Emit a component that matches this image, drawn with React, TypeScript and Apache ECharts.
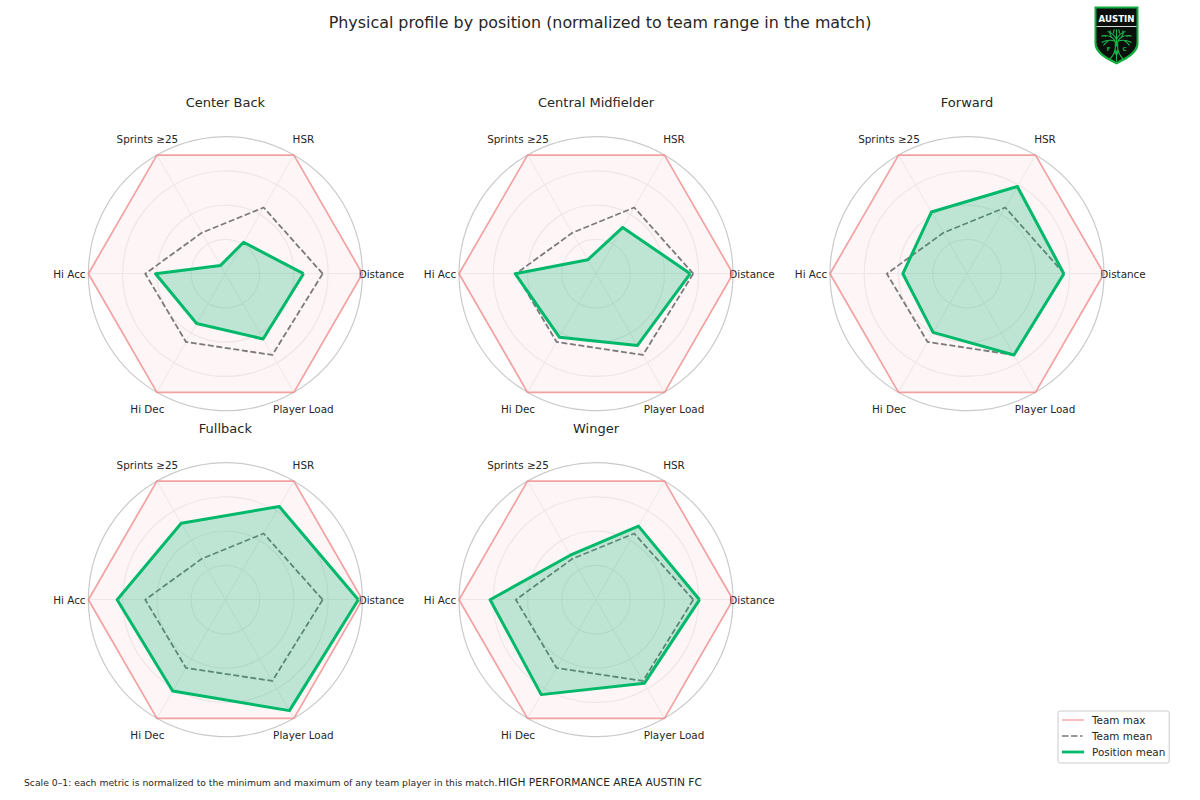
import React, { useEffect, useRef } from "react";
import * as echarts from "echarts";

const FONT = "'DejaVu Sans', sans-serif";
const metrics = ["Distance", "HSR", "Sprints ≥25", "Hi Acc", "Hi Dec", "Player Load"];
const positions = ["Center Back", "Central Midfielder", "Forward", "Fullback", "Winger"];
const teamMax = [1, 1, 1, 1, 1, 1];
const teamMean = [0.71, 0.558, 0.345, 0.585, 0.575, 0.685];
const centerBack = [0.57, 0.265, 0.07, 0.51, 0.42, 0.55];
const centralMidfielder = [0.688, 0.39, 0.118, 0.59, 0.535, 0.605];
const forward = [0.707, 0.735, 0.52, 0.468, 0.495, 0.685];
const fullback = [0.97, 0.786, 0.645, 0.79, 0.77, 0.935];
const winger = [0.756, 0.62, 0.375, 0.773, 0.8, 0.705];
const positionValues = [centerBack, centralMidfielder, forward, fullback, winger];
const panelCenters = [
  [225.4, 273.7],
  [596, 273.7],
  [967, 273.7],
  [225.4, 599.7],
  [596, 599.7],
];
const MAX_COLOR = "rgba(240,128,128,0.72)";
const MEAN_COLOR = "#7a7a7a";
const POS_COLOR = "#00b96b";

const blank = "M0 0L0 0M25 14L25 14";
const maxIcon = `path://${blank}M0 6.3H22V7.7H0Z`;
const meanIcon = `path://${blank}M0 6.2H6.5V7.8H0ZM9 6.2H15.5V7.8H9ZM18 6.2H20.5V7.8H18Z`;
const posIcon = `path://${blank}M0 5.6H22V8.4H0Z`;

echarts.graphic.registerShape(
  "austinShield",
  echarts.graphic.extendPath("M0 0H44V37C44 47 32 53 22 58C12 53 0 47 0 37Z", {})
);
echarts.graphic.registerShape(
  "austinTree",
  echarts.graphic.extendPath(
    "M20.8 48L20.8 35C19 31 15 29 10 29M20.8 35C17 33 11 34 7 36M23.2 48L23.2 35C25 31 29 29 34 29M23.2 35C27 33 33 34 37 36M22 40L22 23M22 33C20 29 18 26 13 25M22 33C24 29 26 26 31 25M17 30C15 28 15 26 16 24M27 30C29 28 29 26 28 24M12 30C10 29 8 29 7 30M32 30C34 29 36 29 37 30M14 34C12 36 10 37 9 39M30 34C32 36 34 37 35 39M19 27C19 25 19 24 20 23M25 27C25 25 25 24 24 23M15 53C19 49 21 45 21 39M29 53C25 49 23 45 23 39M22 44L22 55",
    {}
  )
);

export default function App() {
  const ref = useRef<HTMLDivElement>(null);
  useEffect(() => {
    const chart = echarts.init(ref.current!, undefined, { renderer: "svg" });
    chart.setOption({
      animation: false,
      backgroundColor: "#fff",
      textStyle: { fontFamily: FONT },
      title: [
        {
          text: "Physical profile by position (normalized to team range in the match)",
          left: 600,
          top: 14,
          textAlign: "center",
          padding: 0,
          textStyle: { fontFamily: FONT, fontSize: 15.9, fontWeight: "normal", color: "#262626" },
        },
        ...positions.map((p, i) => ({
          text: p,
          left: panelCenters[i][0],
          top: panelCenters[i][1] - 178,
          textAlign: "center",
          padding: 0,
          textStyle: { fontFamily: FONT, fontSize: 13, fontWeight: "normal", color: "#262626" },
        })),
      ],
      legend: {
        orient: "vertical",
        left: 1058,
        top: 711,
        padding: [2, 4, 4, 4],
        itemWidth: 25,
        itemHeight: 14,
        itemGap: 2,
        selectedMode: false,
        backgroundColor: "#fff",
        borderColor: "#cccccc",
        borderWidth: 1,
        borderRadius: 2,
        textStyle: { fontFamily: FONT, fontSize: 10.4, color: "#262626" },
        data: [
          { name: "Team max", icon: maxIcon },
          { name: "Team mean", icon: meanIcon },
          { name: "Position mean", icon: posIcon },
        ],
      },
      radar: panelCenters.map((c) => ({
        center: c,
        radius: 137,
        startAngle: 0,
        shape: "circle",
        splitNumber: 4,
        axisNameGap: 19,
        axisName: {
          color: "#262626",
          fontFamily: FONT,
          fontSize: 10.4,
          align: "center",
          verticalAlign: "middle",
        },
        indicator: metrics.map((m) => ({ name: m, min: 0, max: 1 })),
        axisLine: { lineStyle: { color: "#efefef", width: 1 } },
        axisTick: { show: false },
        splitArea: { show: false },
        splitLine: {
          lineStyle: {
            color: ["#efefef", "#efefef", "#efefef", "#efefef", "#cacaca"],
            width: 1.2,
          },
        },
      })),
      series: positionValues.map((vals, i) => ({
        type: "radar",
        name: positions[i],
        radarIndex: i,
        symbol: "none",
        data: [
          {
            name: "Team max",
            value: teamMax,
            itemStyle: { color: MAX_COLOR },
            lineStyle: { color: MAX_COLOR, width: 1.7 },
            areaStyle: { color: "rgba(240,128,140,0.08)", opacity: 1 },
          },
          {
            name: "Team mean",
            value: teamMean,
            itemStyle: { color: MEAN_COLOR },
            lineStyle: { color: MEAN_COLOR, width: 1.8, type: [6, 2.6] },
          },
          {
            name: "Position mean",
            value: vals,
            itemStyle: { color: POS_COLOR },
            lineStyle: { color: POS_COLOR, width: 3 },
            areaStyle: { color: "rgba(0,185,107,0.25)", opacity: 1 },
          },
        ],
      })),
      graphic: [
        {
          type: "text",
          left: 24,
          top: 778,
          style: {
            text: "Scale 0–1: each metric is normalized to the minimum and maximum of any team player in this match.",
            fontFamily: FONT,
            fontSize: 9.24,
            fill: "#262626",
          },
        },
        {
          type: "text",
          left: 498,
          top: 777,
          style: {
            text: "HIGH PERFORMANCE AREA AUSTIN FC",
            fontFamily: FONT,
            fontSize: 10.66,
            fill: "#262626",
          },
        },
        {
          type: "group",
          x: 1094.5,
          y: 6.5,
          children: [
            { type: "austinShield", style: { fill: "#0fae3f", stroke: "none" } },
            {
              type: "austinShield",
              x: 2,
              y: 2,
              scaleX: 40 / 44,
              scaleY: 53.5 / 58,
              style: { fill: "#0a0f0c", stroke: "none" },
            },
            { type: "rect", shape: { x: 2, y: 19.5, width: 40, height: 0.9 }, style: { fill: "#d8d8d8" } },
            {
              type: "text",
              x: 22,
              y: 12,
              style: {
                text: "AUSTIN",
                fontFamily: FONT,
                fontWeight: "bold",
                fontSize: 8.6,
                fill: "#ffffff",
                align: "center",
                verticalAlign: "middle",
              },
            },
            { type: "austinTree", style: { fill: "none", stroke: "#1ab84a", lineWidth: 1.1 } },
            { type: "text", x: 14, y: 42, style: { text: "F", fontFamily: FONT, fontSize: 5.5, fontWeight: "bold", fill: "#1ab84a", align: "center", verticalAlign: "middle" } },
            { type: "text", x: 30, y: 42, style: { text: "C", fontFamily: FONT, fontSize: 5.5, fontWeight: "bold", fill: "#1ab84a", align: "center", verticalAlign: "middle" } },
          ],
        },
      ],
    });
    return () => chart.dispose();
  }, []);
  return <div ref={ref} style={{ position: "fixed", left: 0, top: 0, width: 1200, height: 800 }} />;
}
